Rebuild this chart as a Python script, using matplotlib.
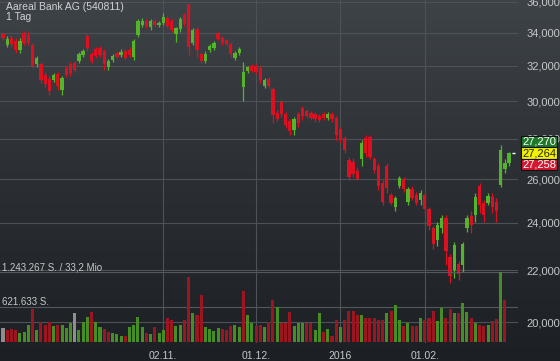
import numpy as np
import matplotlib.pyplot as plt
from matplotlib.colors import LinearSegmentedColormap
from matplotlib.patches import Rectangle
from matplotlib.ticker import FixedLocator, NullLocator, NullFormatter

plt.rcParams['font.family'] = ['Liberation Sans', 'DejaVu Sans']

# daily candles, Aareal Bank AG, Sep 2015 - Feb 2016
opens = [
    33930, 33270, 33690, 33510, 32960, 33990, 33870, 33270, 32110, 32110,
    31480, 31260, 31200, 31540, 30630, 31880, 32110, 32170, 32300, 32660,
    33810, 32720, 33020, 33080, 32900, 31930, 32360, 32780, 32660, 32900,
    32960, 32540, 33870, 34500, 34770, 34380, 34770, 34500, 34640, 34960,
    34770, 33930, 34260, 35150, 35850, 33390, 34260, 32720, 32300, 32960,
    33080, 33930, 33690, 33570, 33330, 32480, 32780, 30800, 31710, 31990,
    31990, 31880, 30860, 31260, 30690, 29370, 29950, 29320, 28940, 28460,
    29320, 29630, 29480, 29370, 29320, 29210, 29320, 29100, 29320, 29100,
    28520, 28040, 26900, 26850, 26400, 26950, 28040, 28090, 26950, 26650,
    25820, 26650, 25270, 24680, 25690, 25960, 24950, 25550, 25270, 25040,
    25270, 24630, 23780, 23270, 23780, 24220, 22520, 22000, 22260, 22220,
    23780, 24310, 24360, 25690, 24900, 24860, 25180, 24950, 25730, 26500,
    26800,
]
highs = [
    34050, 33810, 33870, 33690, 33690, 34130, 34070, 33390, 32600, 32240,
    31660, 31430, 31600, 31660, 31430, 31990, 32240, 32300, 32840, 33020,
    33930, 32840, 33140, 33200, 33020, 32420, 32720, 32900, 33020, 33020,
    33140, 33630, 34890, 34960, 34890, 34890, 34890, 34770, 35280, 35090,
    34890, 34380, 35020, 35280, 35920, 34320, 34380, 32840, 32900, 33330,
    33510, 34060, 33810, 33630, 33450, 32900, 33140, 32240, 31990, 32110,
    32110, 31990, 31310, 31370, 30800, 29530, 30060, 29420, 29040, 29150,
    29420, 29740, 29580, 29480, 29420, 29320, 29420, 29420, 29420, 29210,
    28620, 28140, 27050, 27000, 26600, 27940, 28200, 28200, 27050, 26800,
    25960, 26800, 25360, 25220, 26160, 26110, 25640, 25690, 25410, 25500,
    25410, 24720, 23860, 24030, 24360, 24360, 22640, 23180, 22350, 23180,
    24360, 24500, 25360, 25820, 25040, 25360, 25360, 25130, 27690, 26950,
    27340,
]
lows = [
    33570, 33150, 33150, 32780, 32780, 33270, 33270, 31880, 31930, 31030,
    30800, 30350, 31090, 30630, 30350, 31370, 31430, 31660, 32170, 32540,
    32900, 32170, 32480, 32540, 31770, 31770, 32240, 32480, 32540, 32360,
    32540, 32360, 33750, 34380, 34320, 34190, 34380, 34380, 34500, 34320,
    34060, 33450, 34060, 34450, 32660, 33270, 32540, 32170, 32170, 32840,
    32960, 33570, 33270, 33200, 32540, 32360, 32660, 30010, 31600, 31660,
    31540, 31030, 30740, 30740, 28830, 28940, 29150, 28570, 28200, 28200,
    28620, 28990, 29100, 28990, 28880, 28880, 28990, 28990, 28880, 27940,
    27790, 27290, 25960, 26110, 25960, 26650, 27090, 26950, 26300, 25500,
    24770, 25360, 24770, 24500, 25590, 25410, 24770, 25040, 24770, 24810,
    24360, 23690, 22850, 22980, 23570, 22220, 21500, 21700, 21620, 21930,
    23610, 23570, 24030, 24450, 24030, 24770, 24450, 24030, 25640, 26300,
    26650,
]
closes = [
    33690, 33630, 33330, 32960, 33510, 33390, 33390, 31990, 32480, 31200,
    30970, 30580, 31480, 30860, 31310, 31480, 31600, 31770, 32720, 32900,
    33080, 32300, 32600, 32660, 32110, 32300, 32600, 32540, 32840, 32480,
    32660, 33510, 34770, 34770, 34450, 34770, 34500, 34640, 35020, 34450,
    34190, 34320, 34890, 34580, 33150, 34190, 32960, 32300, 32720, 33200,
    33390, 33630, 33390, 33330, 32720, 32780, 33020, 31660, 31930, 31710,
    31660, 31200, 31200, 30860, 29260, 29040, 29320, 28730, 28410, 29040,
    28830, 29210, 29210, 29100, 29040, 28990, 29100, 29320, 29040, 28200,
    27940, 27440, 26110, 26250, 26010, 27790, 27290, 27090, 26450, 25690,
    24950, 25590, 24860, 25090, 26040, 25550, 25550, 25130, 24860, 25360,
    24590, 23860, 23100, 23900, 24220, 22770, 21770, 23020, 21850, 23060,
    24220, 23900, 25180, 24810, 24360, 25220, 24680, 24500, 27440, 26800,
    27264,
]
volumes = [
    248600, 213100, 230900, 213100, 159800, 177600, 301900, 586100, 213100, 355200,
    301900, 355200, 284200, 301900, 301900, 248600, 337400, 515000, 213100, 355200,
    444000, 532800, 355200, 266400, 230900, 177600, 159800, 142100, 106600, 106600,
    266400, 301900, 444000, 266400, 159800, 142100, 266400, 159800, 213100, 426200,
    390700, 284200, 301900, 390700, 1154400, 515000, 479500, 834700, 266400, 230900,
    195400, 248600, 230900, 213100, 284200, 301900, 266400, 905800, 479500, 337400,
    284200, 301900, 266400, 355200, 745900, 621600, 337400, 337400, 532800, 284200,
    337400, 337400, 337400, 337400, 213100, 515000, 177600, 230900, 106600, 390700,
    266400, 390700, 550600, 550600, 479500, 479500, 426200, 426200, 426200, 390700,
    390700, 515000, 550600, 657100, 390700, 284200, 337400, 284200, 284200, 426200,
    390700, 426200, 550600, 373000, 603800, 426200, 586100, 515000, 515000, 692600,
    532800, 426200, 337400, 301900, 284200, 301900, 373000, 408500, 1243267, 745900,
    0,
]
# volume colour: u = up, d = down, n = unchanged
vol_dir = ("nddduuudud" "dduduuunuu" "uduudduuud" "uuuududuud" "duuddudduu"
           "uuddduuduu" "dduddudddu" "uudduududd" "uddddudddd" "duduududdu"
           "ddduuddudu" "ududduddud" "d")

date_ticks = [38, 60, 80, 100]
date_labels = ['02.11.', '01.12.', '2016', '01.02.']
price_ticks = [20000, 22000, 24000, 26000, 28000, 30000, 32000, 34000, 36000]
vol_max = 1243267
vol_labels = ['1.243.267 S. / 33,2 Mio', '621.633 S.']
quote_labels = ['27,270', '27,264', '27,258']

n = len(closes)
idx = np.arange(n)
o = np.array(opens)
c = np.array(closes)
up = c >= o

fig = plt.figure(figsize=(5.6, 3.61), dpi=100)

# background gradient
bg = fig.add_axes([0, 0, 1, 1], zorder=-10)
cmap = LinearSegmentedColormap.from_list('bg', ['#3e4348', '#2b2f34', '#1c1f23'])
bg.imshow(np.linspace(0, 1, 256).reshape(-1, 1), aspect='auto', cmap=cmap,
          extent=[0, 1, 0, 1])
bg.axis('off')

xlim = (-0.71, 122.1)
axw = 518 / 560

# price panel
ax = fig.add_axes([0, 18 / 361, axw, 343 / 361], zorder=1)
ax.patch.set_visible(False)
ax.set_yscale('log')
ax.set_ylim(19246, 36110)
ax.set_xlim(*xlim)
ax.yaxis.set_major_locator(FixedLocator(price_ticks))
ax.yaxis.set_minor_locator(NullLocator())
ax.yaxis.set_minor_formatter(NullFormatter())
ax.set_yticklabels([f'{v:,}' for v in price_ticks])
ax.yaxis.tick_right()
ax.set_xticks(date_ticks)
ax.set_xticklabels(date_labels)
ax.tick_params(axis='y', length=0, pad=6, labelsize=8, labelcolor='#c5c8cb')
ax.tick_params(axis='x', length=0, pad=6, labelsize=7.5, labelcolor='#c5c8cb')
ax.grid(True, color='#4d5257', lw=0.8)
ax.set_axisbelow(True)
for s in ax.spines.values():
    s.set_visible(False)

col = np.where(up, '#55b52a', '#dc1020')
ax.vlines(idx, lows, highs, colors=col, lw=0.9, zorder=3)
ax.bar(idx, np.abs(c - o), bottom=np.minimum(o, c), width=0.78, color=col,
       zorder=4)
ax.hlines(closes[-1], 120.6, 121.4, color='white', lw=1, zorder=5)

# volume panel
vax = fig.add_axes([0, 19 / 361, axw, 70 / 361], zorder=2)
vax.patch.set_visible(False)
vax.set_xlim(*xlim)
vax.set_ylim(0, vol_max)
vax.axis('off')
vcol_map = {'u': '#478d25', 'd': '#9b1620', 'n': '#8e8e8e'}
vax.bar(idx, volumes, width=0.72, color=[vcol_map[d] for d in vol_dir], zorder=3)
for v, lab in zip([vol_max, vol_max / 2], vol_labels):
    vax.axhline(v, color='#55595e', lw=0.8, zorder=1)
    vax.text(0.004, v, lab, transform=vax.get_yaxis_transform(), va='bottom',
             ha='left', fontsize=7, color='#c5c8cb')

# title
fig.text(6 / 560, 1 - 2 / 361, 'Aareal Bank AG (540811)', va='top', ha='left',
         fontsize=7.5, color='#cfd2d5')
fig.text(6 / 560, 1 - 12 / 361, '1 Tag', va='top', ha='left', fontsize=7.5,
         color='#cfd2d5')

# quote boxes on the right, centred on the last price
fig.canvas.draw()
ymid = fig.transFigure.inverted().transform(
    ax.transData.transform((0, closes[-1])))[1]
bh = 11.5 / 361
styles = [('#1e7a2a', 'white'), ('#f2f200', '#222222'), ('#d41830', 'white')]
for k, (lab, (fc, tc)) in enumerate(zip(quote_labels, styles)):
    yc = ymid + (1 - k) * bh
    fig.add_artist(Rectangle((521 / 560, yc - bh / 2), 36 / 560, bh,
                             transform=fig.transFigure, facecolor=fc,
                             edgecolor='#111111', lw=0.8, zorder=10))
    fig.text(539 / 560, yc, lab, ha='center', va='center', fontsize=8,
             color=tc, zorder=11)

fig.savefig('out.png', dpi=100)
